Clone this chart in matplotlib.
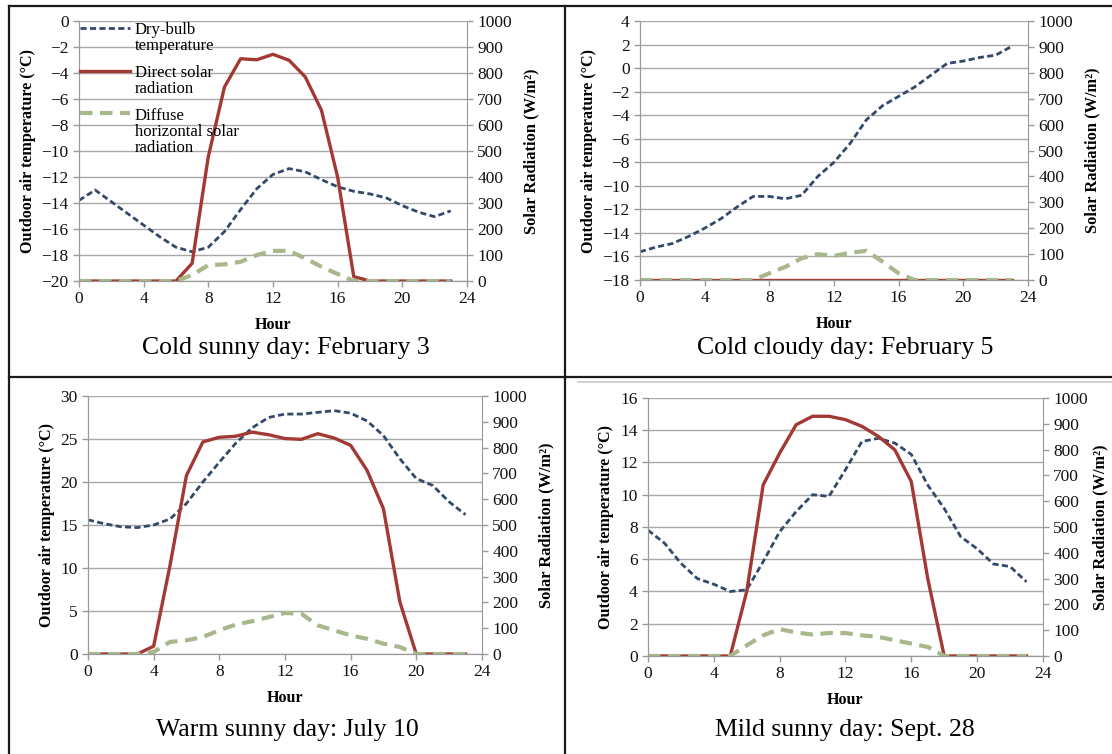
import matplotlib.pyplot as plt
from matplotlib.lines import Line2D

plt.rcParams['font.family'] = ['Liberation Serif', 'DejaVu Serif']

hours = list(range(24))

# Cold sunny day: February 3
feb3_temp = [-13.8, -13.0, -13.9, -14.8, -15.7, -16.6, -17.4, -17.75, -17.4, -16.2, -14.5, -12.9,
             -11.8, -11.35, -11.6, -12.2, -12.75, -13.1, -13.3, -13.6, -14.2, -14.7, -15.05, -14.6]
feb3_direct = [0, 0, 0, 0, 0, 0, 0, 68, 478, 746, 855, 851, 872, 849, 785, 657, 400, 17, 0, 0, 0, 0, 0, 0]
feb3_diffuse = [0, 0, 0, 0, 0, 0, 0, 23, 61, 64, 74, 100, 116, 116, 87, 55, 27, 0, 0, 0, 0, 0, 0, 0]

# Cold cloudy day: February 5
feb5_temp = [-15.6, -15.2, -14.9, -14.3, -13.6, -12.8, -11.8, -10.9, -10.9, -11.1, -10.8, -9.2,
             -8.0, -6.4, -4.4, -3.2, -2.4, -1.6, -0.6, 0.4, 0.6, 0.9, 1.1, 1.85]
feb5_direct = [0] * 24
feb5_diffuse = [0, 0, 0, 0, 0, 0, 0, 0, 26, 51, 84, 100, 93, 105, 113, 71, 26, 0, 0, 0, 0, 0, 0, 0]

# Warm sunny day: July 10
jul10_temp = [15.6, 15.15, 14.8, 14.7, 15.0, 15.7, 17.5, 20.0, 22.3, 24.5, 26.3, 27.5,
              27.9, 27.9, 28.1, 28.3, 28.0, 27.1, 25.4, 22.7, 20.4, 19.6, 17.7, 16.2]
jul10_direct = [0, 0, 0, 0, 30, 344, 692, 822, 840, 844, 860, 850, 835, 832, 854, 837, 809, 712, 563, 202, 0, 0, 0, 0]
jul10_diffuse = [0, 0, 0, 0, 8, 47, 53, 66, 92, 114, 127, 143, 159, 156, 111, 92, 72, 59, 40, 27, 0, 0, 0, 0]

# Mild sunny day: Sept. 28
sep28_temp = [7.8, 7.0, 5.75, 4.8, 4.45, 4.0, 4.1, 5.85, 7.7, 8.95, 10.0, 9.9,
              11.55, 13.3, 13.5, 13.2, 12.5, 10.6, 9.15, 7.4, 6.65, 5.7, 5.55, 4.6]
sep28_direct = [0, 0, 0, 0, 0, 0, 250, 663, 786, 896, 929, 929, 916, 890, 851, 799, 676, 300, 0, 0, 0, 0, 0, 0]
sep28_diffuse = [0, 0, 0, 0, 0, 0, 41, 80, 104, 91, 83, 89, 89, 80, 74, 61, 48, 35, 0, 0, 0, 0, 0, 0]

captions = ['Cold sunny day: February 3', 'Cold cloudy day: February 5',
            'Warm sunny day: July 10', 'Mild sunny day: Sept. 28']
temp_limits = [(-20, 0, 2), (-18, 4, 2), (0, 30, 5), (0, 16, 2)]

panels = [
    (feb3_temp, feb3_direct, feb3_diffuse),
    (feb5_temp, feb5_direct, feb5_diffuse),
    (jul10_temp, jul10_direct, jul10_diffuse),
    (sep28_temp, sep28_direct, sep28_diffuse),
]

# axes rectangles in figure fractions (left, bottom, width, height)
rects = [
    (0.0710, 0.6273, 0.3489, 0.3448),
    (0.5755, 0.6286, 0.3489, 0.3435),
    (0.0791, 0.1326, 0.3543, 0.3422),
    (0.5827, 0.1300, 0.3552, 0.3422),
]
caption_pos = [(0.257, 0.538), (0.760, 0.538), (0.258, 0.032), (0.760, 0.032)]
right_pads = [8, 8, 8, 3]

temp_color = '#34496A'
direct_color = '#A23A33'
diffuse_color = '#A8B78C'
grid_color = '#A8A8A8'
spine_color = '#9A9A9A'

fig = plt.figure(figsize=(11.12, 7.54), dpi=100)

for i, (temp, direct, diffuse) in enumerate(panels):
    ax = fig.add_axes(rects[i])
    ax2 = ax.twinx()

    l1, = ax.plot(hours, temp, color=temp_color, lw=2.0, dashes=(2.2, 1.2),
                  label='Dry-bulb\ntemperature')
    l2, = ax2.plot(hours, direct, color=direct_color, lw=2.4, label='Direct solar\nradiation',
                   solid_joinstyle='round')
    l3, = ax2.plot(hours, diffuse, color=diffuse_color, lw=3.0, dashes=(3.0, 1.8),
                   label='Diffuse\nhorizontal solar\nradiation')

    lo, hi, step = temp_limits[i]
    ax.set_ylim(lo, hi)
    ax.set_yticks(range(lo, hi + 1, step))
    ax.set_xlim(0, 24)
    ax.set_xticks(range(0, 25, 4))
    ax2.set_ylim(0, 1000)
    ax2.set_yticks(range(0, 1001, 100))

    ax.grid(axis='y', color=grid_color, lw=1.0)
    ax.set_axisbelow(True)
    for a in (ax, ax2):
        a.spines['top'].set_visible(False)
        a.spines['left'].set_color(spine_color)
        a.spines['right'].set_color(spine_color)
        a.spines['bottom'].set_color(spine_color)
        a.tick_params(colors=spine_color, labelcolor='#111111', labelsize=12.5,
                      length=4, width=1)
    ax.spines['right'].set_visible(False)

    ax.set_xlabel('Hour', fontsize=11.5, fontweight='bold', labelpad=7)
    ax.set_ylabel('Outdoor air temperature (°C)', fontsize=11.6, fontweight='bold', labelpad=4)
    ax2.set_ylabel('Solar Radiation (W/m²)', fontsize=11.8, fontweight='bold',
                   labelpad=right_pads[i])

    fig.text(caption_pos[i][0], caption_pos[i][1], captions[i], fontsize=18.5,
             ha='center', va='center')

    if i == 0:
        leg = ax2.legend(handles=[l1, l2, l3], loc='upper left', frameon=False,
                         fontsize=12, handlelength=3.0, handletextpad=0.3,
                         labelspacing=0.65, borderaxespad=0.0, borderpad=0.05)
        for row in leg._legend_handle_box.get_children()[0].get_children():
            row.align = 'top'
        for t in leg.get_texts():
            t.set_linespacing(1.0)

# table-like borders
border = dict(color='#1a1a1a', lw=1.6)
fig.add_artist(Line2D([0.008, 1.0], [0.992, 0.992], **border))
fig.add_artist(Line2D([0.008, 1.0], [0.500, 0.500], **border))
fig.add_artist(Line2D([0.008, 0.008], [0.0, 0.992], **border))
fig.add_artist(Line2D([0.508, 0.508], [0.0, 0.992], **border))
fig.add_artist(Line2D([0.52, 1.0], [0.493, 0.493], color='#C8C8C8', lw=1.2))

fig.savefig('out.png', dpi=100)
